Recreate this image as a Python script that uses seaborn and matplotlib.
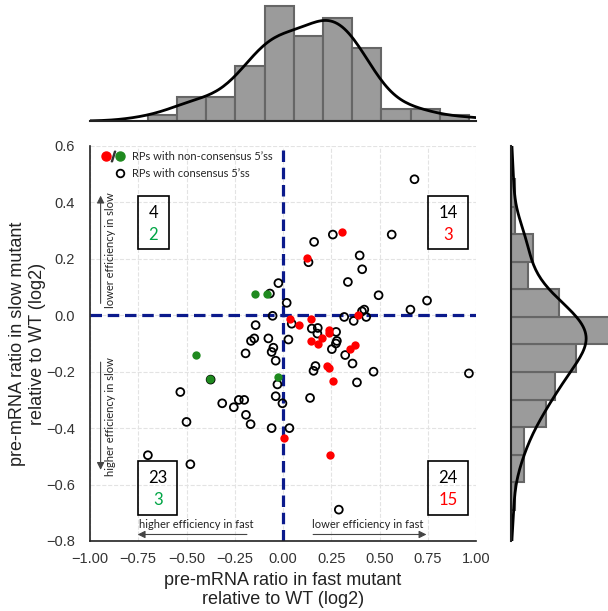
import numpy as np
import pandas as pd
import seaborn as sns
import matplotlib.pyplot as plt
from matplotlib.lines import Line2D
from matplotlib.patches import Rectangle
from matplotlib.ticker import FuncFormatter
from matplotlib.legend_handler import HandlerTuple

# RPs with consensus 5'ss (open circles)
cons_x = [-0.024, -0.068,
          0.258, 0.161, 0.132, 0.397, 0.410, 0.336, 0.495, 0.019, 0.681, 0.563,
          0.746, 0.660, 0.421, 0.409,
          0.045, 0.149, 0.180, 0.178, 0.275, 0.274, 0.279, 0.253, 0.322, 0.360,
          0.469, 0.383, 0.168, 0.158, 0.140, 0.289, 0.033, 0.963, 0.028, 0.366,
          0.431, 0.317,
          -0.054, -0.142, -0.059, -0.029, -0.038, -0.003, -0.038, -0.059, -0.050,
          -0.076, -0.149, -0.166, -0.194, -0.375, -0.532, -0.500, -0.315, -0.255,
          -0.229, -0.201, -0.192, -0.168, -0.700, -0.480]
cons_y = [0.114, 0.077,
          0.286, 0.260, 0.188, 0.212, 0.163, 0.118, 0.071, 0.044, 0.482, 0.286,
          0.052, 0.020, 0.020, 0.014,
          -0.030, -0.047, -0.045, -0.065, -0.059, -0.100, -0.091, -0.120, -0.141,
          -0.171, -0.200, -0.238, -0.180, -0.197, -0.293, -0.689, -0.400, -0.206,
          -0.086, -0.020, -0.006, -0.006,
          -0.002, -0.035, -0.400, -0.245, -0.287, -0.312, -0.161, -0.130, -0.115,
          -0.082, -0.082, -0.091, -0.135, -0.228, -0.272, -0.378, -0.312, -0.326,
          -0.300, -0.300, -0.353, -0.386, -0.496, -0.528]

# RPs with non-consensus 5'ss, lower efficiency in fast (red)
red_x = [0.305, 0.123, 0.388, 0.036, 0.085, 0.145, 0.236, 0.240, 0.145,
         0.180, 0.200, 0.348, 0.371, 0.230, 0.240, 0.261, 0.007, 0.241]
red_y = [0.294, 0.203, 0.002, -0.012, -0.035, -0.015, -0.053, -0.063, -0.091,
         -0.102, -0.082, -0.118, -0.104, -0.179, -0.188, -0.233, -0.436, -0.497]

# RPs with non-consensus 5'ss, higher efficiency in fast (green)
green_x = [-0.145, -0.085, -0.028, -0.452, -0.379]
green_y = [0.077, 0.077, -0.218, -0.141, -0.226]

# counts per quadrant: UL, UR, LL, LR
quad_total = [4, 14, 23, 24]
quad_noncons = [2, 3, 3, 15]

x_ticks = [-1.0, -0.75, -0.5, -0.25, 0.0, 0.25, 0.5, 0.75, 1.0]
y_ticks = [-0.8, -0.6, -0.4, -0.2, 0.0, 0.2, 0.4, 0.6]

RED = "#ff0000"
GREEN = "#1f8a1f"
GREEN_TXT = "#00a545"
NAVY = "#0b1a8c"
BAR = "#9b9b9b"

sns.set_style("white")
plt.rcParams["font.family"] = ["Liberation Sans", "DejaVu Sans"]
ann_font = ["Lato", "DejaVu Sans"]

df = pd.DataFrame({
    "fast": cons_x + red_x + green_x,
    "slow": cons_y + red_y + green_y,
    "group": ["cons"] * len(cons_x) + ["red"] * len(red_x) + ["green"] * len(green_x),
})

g = sns.JointGrid(data=df, x="fast", y="slow", height=6, space=0)
fig = g.figure
fig.set_size_inches(6.08, 6.11)
ax = g.ax_joint
g.ax_joint.set_position([0.148, 0.1146, 0.635, 0.6465])
g.ax_marg_x.set_position([0.148, 0.802, 0.635, 0.198])
g.ax_marg_y.set_position([0.8405, 0.1146, 0.1595, 0.6465])

# main scatter
ax.grid(True, ls="--", color="#e3e3e3", lw=0.8)
ax.set_axisbelow(True)
ax.axhline(0, color=NAVY, lw=2.3, ls=(0, (3.6, 1.8)), zorder=1)
ax.axvline(0, color=NAVY, lw=2.3, ls=(0, (3.6, 1.8)), zorder=1)
sub = df[df.group == "cons"]
sns.scatterplot(x=sub.fast, y=sub.slow, ax=ax, s=32, facecolor="none",
                edgecolor="black", linewidth=1.3, zorder=3)
sub = df[df.group == "red"]
sns.scatterplot(x=sub.fast, y=sub.slow, ax=ax, s=36, color=RED,
                linewidth=0, zorder=4)
sub = df[df.group == "green"]
sns.scatterplot(x=sub.fast, y=sub.slow, ax=ax, s=36, color=GREEN,
                linewidth=0, zorder=4)

ax.set_xlim(-1, 1)
ax.set_ylim(-0.8, 0.6)
ax.set_xticks(x_ticks)
ax.set_yticks(y_ticks)
ax.xaxis.set_major_formatter(FuncFormatter(lambda v, p: f"{v:.2f}".replace("-", "\u2212")))
ax.yaxis.set_major_formatter(FuncFormatter(lambda v, p: f"{v:.1f}".replace("-", "\u2212")))
ax.tick_params(axis="both", length=0, labelsize=10.5, colors="#333333")
ax.tick_params(axis="x", pad=8)
ax.tick_params(axis="y", pad=11)
for side in ["left", "bottom"]:
    ax.spines[side].set_color("#222222")
    ax.spines[side].set_linewidth(1.2)
ax.set_xlabel("pre-mRNA ratio in fast mutant\nrelative to WT (log2)",
              fontsize=13, color="#222222", labelpad=4)
ax.set_ylabel("pre-mRNA ratio in slow mutant\nrelative to WT (log2)",
              fontsize=13, color="#222222", labelpad=0)

# legend
red_h = Line2D([], [], marker="o", ls="none", color=RED, markersize=6.5)
slash_h = Line2D([], [], marker="$/$", ls="none", color="#333333", markersize=7.5)
green_h = Line2D([], [], marker="o", ls="none", color=GREEN, markersize=6.5)
blank_h = Line2D([], [], ls="none")
open_h = Line2D([], [], marker="o", ls="none", mfc="none", mec="black",
                mew=1.3, markersize=5.5)
ax.legend([(red_h, slash_h, green_h), (blank_h, blank_h, open_h)],
          ["RPs with non-consensus 5\u2019ss", "RPs with consensus 5\u2019ss"],
          handler_map={tuple: HandlerTuple(ndivide=None, pad=0)},
          loc="upper left", bbox_to_anchor=(0.005, 1.012), frameon=False,
          prop={"family": ann_font, "size": 8}, handlelength=2.0,
          handletextpad=0.7, labelspacing=0.55)

# quadrant count boxes
box_left = [-0.752, 0.752, -0.752, 0.752]
box_width = [0.160, 0.207, 0.205, 0.207]
box_top = [0.424, 0.424, -0.518, -0.518]
box_h = 0.19
for i in range(4):
    ax.add_patch(Rectangle((box_left[i], box_top[i] - box_h), box_width[i], box_h,
                           fill=False, ec="black", lw=1.2, zorder=5))
    cx = box_left[i] + box_width[i] / 2
    ax.text(cx, box_top[i] - 0.06, str(quad_total[i]), ha="center", va="center",
            fontsize=12, family=ann_font, color="black", zorder=6)
    ax.text(cx, box_top[i] - 0.138, str(quad_noncons[i]), ha="center", va="center",
            fontsize=12, family=ann_font,
            color=GREEN_TXT if i in (0, 2) else RED, zorder=6)

# direction arrows
arrow = dict(arrowstyle="-|>", color="#444444", lw=0.8, mutation_scale=11,
             shrinkA=0, shrinkB=0)
ax.annotate("", xy=(-0.945, 0.424), xytext=(-0.945, 0.042), arrowprops=arrow)
ax.annotate("", xy=(-0.945, -0.548), xytext=(-0.945, -0.166), arrowprops=arrow)
ax.annotate("", xy=(-0.753, -0.777), xytext=(-0.187, -0.777), arrowprops=arrow)
ax.annotate("", xy=(0.743, -0.777), xytext=(0.156, -0.777), arrowprops=arrow)
ax.text(-0.893, 0.232, "lower efficiency in slow", rotation=90, ha="center",
        va="center", fontsize=8, family=ann_font, color="#222222")
ax.text(-0.893, -0.36, "higher efficiency in slow", rotation=90, ha="center",
        va="center", fontsize=8, family=ann_font, color="#222222")
ax.text(-0.452, -0.742, "higher efficiency in fast", ha="center", va="center",
        fontsize=8, family=ann_font, color="#222222")
ax.text(0.44, -0.742, "lower efficiency in fast", ha="center", va="center",
        fontsize=8, family=ann_font, color="#222222")

# marginal histograms with kde
sns.histplot(data=df, x="fast", bins=11, kde=True, kde_kws={"cut": 3},
             color=BAR, edgecolor="#666666", linewidth=1.5, alpha=1,
             ax=g.ax_marg_x)
sns.histplot(data=df, y="slow", bins=12, kde=True, kde_kws={"cut": 3},
             color=BAR, edgecolor="#666666", linewidth=1.5, alpha=1,
             ax=g.ax_marg_y)
for m in [g.ax_marg_x, g.ax_marg_y]:
    m.lines[-1].set_color("black")
    m.lines[-1].set_linewidth(2)
    m.tick_params(length=0)
g.ax_marg_x.spines["bottom"].set_color("#222222")
g.ax_marg_x.spines["bottom"].set_linewidth(1.5)
g.ax_marg_y.spines["left"].set_color("#222222")
g.ax_marg_y.spines["left"].set_linewidth(1.5)
g.ax_marg_x.set_xlabel("")
g.ax_marg_y.set_ylabel("")
# tallest bar of the right histogram runs off the figure edge
g.ax_marg_y.set_xlim(0, g.ax_marg_y.get_xlim()[1] * 0.92)
ax.set_xlim(-1, 1)
ax.set_ylim(-0.8, 0.6)

fig.savefig("out.png", dpi=100)
